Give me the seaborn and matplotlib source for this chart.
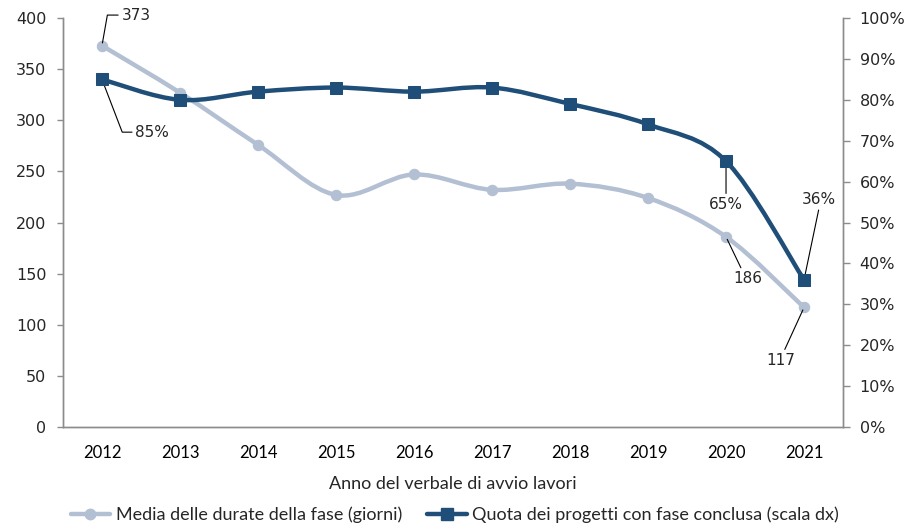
import numpy as np
import pandas as pd
import matplotlib.pyplot as plt
import seaborn as sns
from matplotlib.path import Path
from matplotlib.patches import PathPatch
from matplotlib.lines import Line2D
from matplotlib.ticker import FixedLocator, PercentFormatter

years = ["2012", "2013", "2014", "2015", "2016", "2017", "2018", "2019", "2020", "2021"]
durata_media = [373, 327, 276, 227, 247, 232, 238, 224, 186, 117]
quota_conclusi = [85, 80, 82, 83, 82, 83, 79, 74, 65, 36]

label_durata = "Media delle durate della fase (giorni)"
label_quota = "Quota dei progetti con fase conclusa (scala dx)"

GRAY = "#b3bfd2"
BLUE = "#1f4e79"
AXIS = "#8c8c8c"
NARROW = ["Lato", "DejaVu Sans"]

df = pd.DataFrame({"anno": years, "durata": durata_media, "quota": quota_conclusi})


def smooth_path(xs, ys):
    # Catmull-Rom style bezier through the data points (Excel "smoothed line")
    pts = np.column_stack([xs, ys]).astype(float)
    verts = [pts[0]]
    codes = [Path.MOVETO]
    n = len(pts)
    for i in range(n - 1):
        p0 = pts[max(i - 1, 0)]
        p1 = pts[i]
        p2 = pts[i + 1]
        p3 = pts[min(i + 2, n - 1)]
        verts += [p1 + (p2 - p0) / 6, p2 - (p3 - p1) / 6, p2]
        codes += [Path.CURVE4] * 3
    return Path(verts, codes)


sns.set_theme(style="white")
plt.rcParams["font.family"] = ["DejaVu Sans"]

fig = plt.figure(figsize=(9.06, 5.24), dpi=100)
ax = fig.add_axes([0.0695, 0.185, 0.861, 0.7806])
ax2 = ax.twinx()

sns.lineplot(data=df, x="anno", y="durata", ax=ax, color=GRAY, linestyle="",
             marker="o", markersize=7.5, markeredgecolor=GRAY, legend=False, zorder=3)
sns.lineplot(data=df, x="anno", y="quota", ax=ax2, color=BLUE, linestyle="",
             marker="s", markersize=8, markeredgecolor=BLUE, legend=False, zorder=4)

xpos = np.arange(len(years))
ax.add_patch(PathPatch(smooth_path(xpos, durata_media), fill=False, edgecolor=GRAY,
                       lw=3.2, capstyle="round", joinstyle="round", zorder=2.5))
ax2.add_patch(PathPatch(smooth_path(xpos, quota_conclusi), fill=False, edgecolor=BLUE,
                        lw=3.2, capstyle="round", joinstyle="round", zorder=3.5))

ax.set_xlim(-0.5, len(years) - 0.5)
ax.set_ylim(0, 400)
ax2.set_ylim(0, 100)
ax.set_yticks(np.arange(0, 401, 50))
ax2.set_yticks(np.arange(0, 101, 10))
ax2.yaxis.set_major_formatter(PercentFormatter(decimals=0))

# x axis: labels centred, ticks between categories
ax.xaxis.set_minor_locator(FixedLocator(np.arange(-0.5, len(years), 1.0)))
ax.tick_params(axis="x", which="major", length=0, pad=13, labelsize=12, colors="black")
ax.tick_params(axis="x", which="minor", length=5, width=1, color=AXIS, direction="out")
for t in ax.get_xticklabels():
    t.set_fontfamily(NARROW)

ax.tick_params(axis="y", length=4, width=1, color=AXIS, direction="out", labelsize=11.5,
               pad=8, left=True)
ax2.tick_params(axis="y", length=5, width=1, color=AXIS, direction="out", labelsize=11.5,
                pad=7, right=True)

for a in (ax, ax2):
    a.spines["top"].set_visible(False)
    for s in ("left", "right", "bottom"):
        a.spines[s].set_color(AXIS)
        a.spines[s].set_linewidth(1)
    a.set_ylabel("")
    a.grid(False)

ax.set_xlabel("Anno del verbale di avvio lavori", fontsize=13, labelpad=11, family=NARROW)

line_kw = dict(arrowstyle="-", color="black", lw=0.8, shrinkA=0, shrinkB=2)
FS = 11

# annotations on grey series
ax.annotate(f"{durata_media[0]}", xy=(0, durata_media[0]), xytext=(14, 22),
            textcoords="offset points", fontsize=FS, va="center", ha="left",
            arrowprops=dict(line_kw, connectionstyle="angle,angleA=0,angleB=80",
                            relpos=(0, 0.5)))
ax.annotate(f"{durata_media[8]}", xy=(8, durata_media[8]), xytext=(16, -30),
            textcoords="offset points", fontsize=FS, va="center", ha="center",
            arrowprops=dict(line_kw, relpos=(0.3, 1.0)))
ax.annotate(f"{durata_media[9]}", xy=(9, durata_media[9]), xytext=(-17, -38),
            textcoords="offset points", fontsize=FS, va="center", ha="center",
            arrowprops=dict(line_kw, relpos=(0.6, 1.0)))

# annotations on blue series
ax2.annotate(f"{quota_conclusi[0]}%", xy=(0, quota_conclusi[0]), xytext=(24, -38),
             textcoords="offset points", fontsize=FS, va="center", ha="left",
             arrowprops=dict(line_kw, connectionstyle="angle,angleA=0,angleB=-69",
                             relpos=(0, 0.5)))
ax2.annotate(f"{quota_conclusi[8]}%", xy=(8, quota_conclusi[8]), xytext=(0, -31),
             textcoords="offset points", fontsize=FS, va="center", ha="center",
             arrowprops=dict(line_kw, relpos=(0.5, 1.0)))
ax2.annotate(f"{quota_conclusi[9]}%", xy=(9, quota_conclusi[9]), xytext=(11, 58),
             textcoords="offset points", fontsize=FS, va="center", ha="center",
             arrowprops=dict(line_kw, relpos=(0.5, 0.0)))

handles = [
    Line2D([], [], color=GRAY, lw=3.2, marker="o", markersize=7.5, markeredgecolor=GRAY),
    Line2D([], [], color=BLUE, lw=3.2, marker="s", markersize=8, markeredgecolor=BLUE),
]
fig.legend(handles, [label_durata, label_quota], loc="center",
           bbox_to_anchor=(0.502, 0.018), ncol=2, frameon=False, handlelength=2.2,
           columnspacing=1.4, handletextpad=0.3, prop=dict(family=NARROW, size=13))

fig.savefig("out.png", dpi=100)
